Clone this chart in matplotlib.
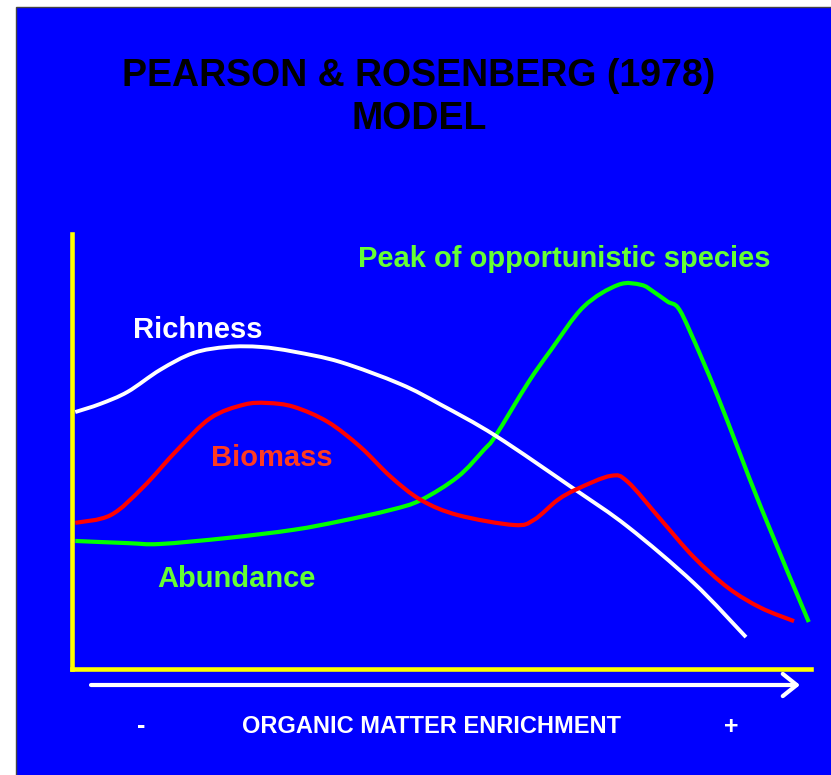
import numpy as np
import matplotlib
matplotlib.use('Agg')
import matplotlib.pyplot as plt
from matplotlib.patches import Rectangle, PathPatch
from matplotlib.path import Path

# Curve data (x = organic matter enrichment, y = relative level)
richness_x = [0.4, 3.8, 7.5, 11.9, 16.4, 21.0, 25.5, 30.0, 36.3, 44.4, 49.9, 57.3, 67.9, 75.2, 84.1, 91.2]
richness_y = [58.9, 60.8, 63.6, 68.7, 72.6, 74.0, 74.0, 72.9, 70.5, 65.4, 60.6, 53.4, 41.1, 32.3, 19.3, 6.7]

biomass_x = [0.4, 5.2, 9.6, 14.2, 18.7, 23.2, 26.4, 30.0, 34.6, 39.0, 43.1, 47.2, 52.2, 59.8, 62.5,
             65.7, 68.4, 72.9, 75.2, 79.7, 84.1, 88.8, 93.2, 97.7]
biomass_y = [33.2, 35.0, 41.5, 50.1, 57.5, 60.6, 61.0, 60.1, 56.6, 50.8, 43.9, 38.5, 35.0, 32.7, 33.9,
             38.5, 41.1, 44.1, 42.7, 33.9, 25.3, 18.1, 13.5, 10.4]

abundance_x = [0.4, 7.5, 11.9, 21.0, 30.0, 36.3, 43.1, 47.2, 52.2, 55.7, 57.3, 61.7, 64.8, 69.2,
               73.9, 77.0, 78.7, 80.6, 82.0, 83.7, 87.4, 93.2, 99.7]
abundance_y = [29.0, 28.5, 28.3, 29.7, 31.6, 33.6, 36.2, 38.5, 43.9, 50.1, 53.4, 65.7, 73.3, 83.3,
               88.4, 88.4, 86.8, 84.5, 83.1, 77.3, 62.4, 36.9, 10.2]

W, H = 831, 775
BLUE = '#0000ff'
narrow = ['Liberation Sans Narrow', 'Liberation Sans', 'DejaVu Sans']
wide = ['Liberation Sans', 'DejaVu Sans']


# Smoothed line through the points (Catmull-Rom as cubic Bezier)
def smooth_line(ax, x, y, **kw):
  p = np.column_stack([x, y])
  n = len(p)
  verts = [p[0]]
  codes = [Path.MOVETO]
  for i in range(n - 1):
    a = p[max(i - 1, 0)]
    d = p[min(i + 2, n - 1)]
    verts += [p[i] + (p[i + 1] - a) / 6, p[i + 1] - (d - p[i]) / 6, p[i + 1]]
    codes += [Path.CURVE4] * 3
  ax.add_patch(PathPatch(Path(verts, codes), fill=False, joinstyle='round',
                         capstyle='butt', clip_on=False, **kw))


fig = plt.figure(figsize=(W / 100, H / 100), dpi=100)
fig.patch.set_facecolor('white')

# Background panel in pixel coordinates
bg = fig.add_axes([0, 0, 1, 1])
bg.set_xlim(0, W)
bg.set_ylim(H, 0)
bg.axis('off')
bg.add_patch(Rectangle((16, 7), W, H, facecolor=BLUE, edgecolor='#444444', linewidth=1))

# Titles and labels
bg.text(419, 86, 'PEARSON & ROSENBERG (1978)', ha='center', va='baseline',
        fontsize=27, fontweight='bold', color='black', family=narrow)
bg.text(419, 129, 'MODEL', ha='center', va='baseline',
        fontsize=27, fontweight='bold', color='black', family=narrow)
bg.text(358, 267, 'Peak of opportunistic species', ha='left', va='baseline',
        fontsize=21, fontweight='bold', color='#66ff33', family=wide)
bg.text(133, 338, 'Richness', ha='left', va='baseline',
        fontsize=21, fontweight='bold', color='white', family=wide)
bg.text(211, 466, 'Biomass', ha='left', va='baseline',
        fontsize=21, fontweight='bold', color='#ff3b1f', family=wide)
bg.text(157, 587, 'Abundance', ha='left', va='baseline',
        fontsize=21, fontweight='bold', color='#66ff33', family=wide)
bg.text(431, 733, 'ORGANIC MATTER ENRICHMENT', ha='center', va='baseline',
        fontsize=17, fontweight='bold', color='white', family=narrow)
bg.text(141, 726, '-', ha='center', va='center',
        fontsize=18, fontweight='bold', color='white', family=wide)
bg.text(731, 727, '+', ha='center', va='center',
        fontsize=18, fontweight='bold', color='white', family=wide)

# x-direction arrow
bg.annotate('', xy=(800, 685), xytext=(91, 685),
            arrowprops=dict(arrowstyle='->, head_length=1.0, head_width=0.8',
                            color='white', lw=3, mutation_scale=10,
                            shrinkA=0, shrinkB=0))

# Main plot area
left, right, top, bottom = 72.3, 811, 234, 669
ax = fig.add_axes([left / W, 1 - bottom / H, (right - left) / W, (bottom - top) / H])
ax.set_facecolor('none')
ax.set_xlim(0, 100)
ax.set_ylim(-0.7, 100.2)
ax.set_xticks([])
ax.set_yticks([])
for s in ['top', 'right']:
  ax.spines[s].set_visible(False)
for s in ['left', 'bottom']:
  ax.spines[s].set_color('#ffff00')
  ax.spines[s].set_linewidth(3.3)
  ax.spines[s].set_capstyle('projecting')

smooth_line(ax, abundance_x, abundance_y, edgecolor='#00ff00', lw=3)
smooth_line(ax, richness_x, richness_y, edgecolor='white', lw=2.8)
smooth_line(ax, biomass_x, biomass_y, edgecolor='#ff0000', lw=3)

fig.savefig('out.png', dpi=100, facecolor=fig.get_facecolor())
